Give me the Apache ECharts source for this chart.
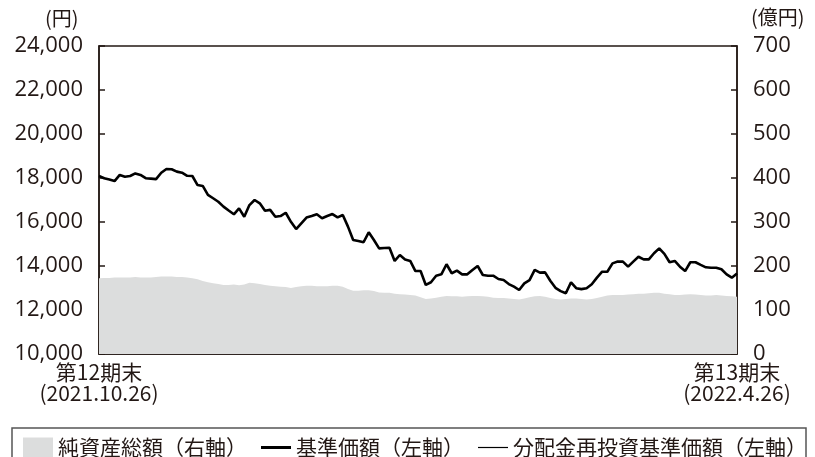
<!DOCTYPE html>
<html>
<head>
<meta charset="utf-8">
<script src="https://cdn.jsdelivr.net/npm/echarts@6/dist/echarts.min.js"></script>
<style>
  html, body { margin: 0; padding: 0; background: #fff; }
  #chart { width: 815px; height: 457px; }
</style>
</head>
<body>
<div id="chart"></div>
<script>
// 基準価額（円）
const navPrice = [
  18090, 17990, 17930, 17860, 18140, 18060, 18090, 18210, 18140, 17990,
  17970, 17950, 18240, 18410, 18400, 18290, 18240, 18100, 18090, 17680,
  17640, 17230, 17080, 16920, 16700, 16520, 16350, 16620, 16240, 16770,
  17000, 16850, 16510, 16550, 16240, 16270, 16420, 16010, 15680, 15940,
  16200, 16270, 16350, 16170, 16270, 16360, 16210, 16320, 15790, 15180,
  15140, 15080, 15530, 15180, 14800, 14820, 14830, 14230, 14500, 14300,
  14230, 13770, 13770, 13140, 13260, 13560, 13620, 14080, 13670, 13790,
  13620, 13620, 13820, 14000, 13590, 13560, 13560, 13410, 13360, 13180,
  13060, 12910, 13210, 13360, 13820, 13700, 13710, 13330, 13010, 12860,
  12760, 13260, 12990, 12950, 12990, 13170, 13470, 13740, 13740, 14120,
  14200, 14200, 13970, 14200, 14420, 14300, 14300, 14580, 14800, 14550,
  14170, 14230, 13970, 13770, 14170, 14170, 14050, 13940, 13920, 13920,
  13850, 13620, 13470, 13660
]
// 分配金再投資基準価額（円）: 期中の分配なしのため基準価額と同じ
const reinvestPrice = navPrice
// 純資産総額（億円）
const netAssets = [
  172, 173, 173, 174, 174, 174, 174, 175, 174, 174,
  174, 175, 176, 176, 176, 175, 175, 174, 172, 170,
  166, 163, 161, 159, 157, 157, 158, 156, 158, 162,
  161, 159, 157, 155, 154, 153, 152, 150, 152, 154,
  155, 155, 154, 154, 154, 155, 155, 153, 148, 144,
  144, 145, 145, 143, 140, 139, 139, 137, 136, 135,
  134, 133, 129, 125, 126, 128, 130, 132, 131, 131,
  130, 131, 132, 132, 131, 130, 128, 127, 127, 126,
  125, 124, 126, 129, 131, 132, 130, 127, 125, 124,
  125, 126, 126, 125, 124, 125, 127, 130, 133, 134,
  134, 134, 135, 136, 137, 137, 138, 139, 139, 137,
  136, 134, 134, 135, 136, 135, 134, 133, 133, 134,
  133, 132, 131, 130
]
const periodLabels = ['第12期末\n(2021.10.26)', '第13期末\n(2022.4.26)']
const leftAxisRange = [10000, 24000, 2000]
const rightAxisRange = [0, 700, 100]
const seriesNames = ['純資産総額（右軸）', '基準価額（左軸）', '分配金再投資基準価額（左軸）']

const categories = navPrice.map((_, i) => String(i))
const lastIndex = categories.length - 1

const ink = '#231815'
const font = '"Noto Sans CJK JP", "Noto Sans", sans-serif'
const numFont = '"Open Sans", "Noto Sans", sans-serif'

const chart = echarts.init(document.getElementById('chart'))

const option = {
  animation: false,
  textStyle: { fontFamily: font, color: ink },
  grid: {
    left: 99,
    right: 78,
    top: 46,
    bottom: 103,
    show: true,
    borderColor: ink,
    borderWidth: 1.5,
    backgroundColor: 'transparent'
  },
  legend: {
    left: 18,
    top: 432,
    itemGap: 14,
    itemWidth: 30,
    itemHeight: 20,
    textStyle: { fontFamily: font, fontSize: 21, color: ink },
    data: [
      { name: seriesNames[0], icon: 'rect', itemStyle: { color: '#dcdddd' } },
      { name: seriesNames[1], icon: 'path://M0,0H30V3H0Z', itemStyle: { color: '#000' } },
      { name: seriesNames[2], icon: 'path://M0,0H30V1.2H0Z', itemStyle: { color: '#000' } }
    ]
  },
  graphic: [
    {
      type: 'rect',
      shape: { x: 12, y: 428, width: 794, height: 40 },
      style: { fill: 'none', stroke: '#555', lineWidth: 1.5 },
      z: -1
    },
    {
      type: 'text',
      left: 45,
      top: 8,
      style: { text: '(円)', font: '20px ' + font, fill: ink }
    },
    {
      type: 'text',
      left: 751,
      top: 7,
      style: { text: '(億円)', font: '20px ' + font, fill: ink }
    }
  ],
  xAxis: {
    type: 'category',
    data: categories,
    boundaryGap: false,
    axisLine: { lineStyle: { color: ink, width: 1.5 } },
    axisTick: { show: false },
    axisLabel: {
      interval: (i) => i === 0 || i === lastIndex,
      showMinLabel: true,
      showMaxLabel: true,
      margin: 8,
      fontSize: 21,
      lineHeight: 21,
      color: ink,
      fontFamily: font,
      formatter: (v, i) => (i === 0 ? periodLabels[0] : i === lastIndex ? periodLabels[1] : '')
    }
  },
  yAxis: [
    {
      type: 'value',
      min: leftAxisRange[0],
      max: leftAxisRange[1],
      interval: leftAxisRange[2],
      splitLine: { show: false },
      axisLine: { show: true, lineStyle: { color: ink, width: 1.5 } },
      axisTick: { show: true, inside: true, length: 6, lineStyle: { color: ink, width: 1.5 } },
      axisLabel: {
        margin: 16,
        fontSize: 22,
        color: ink,
        fontFamily: numFont,
        formatter: (v) => v.toLocaleString('en-US')
      }
    },
    {
      type: 'value',
      position: 'right',
      min: rightAxisRange[0],
      max: rightAxisRange[1],
      interval: rightAxisRange[2],
      splitLine: { show: false },
      axisLine: { show: true, lineStyle: { color: ink, width: 1.5 } },
      axisTick: { show: true, inside: true, length: 6, lineStyle: { color: ink, width: 1.5 } },
      axisLabel: { margin: 16, fontSize: 22, color: ink, fontFamily: numFont }
    }
  ],
  series: [
    {
      name: seriesNames[0],
      type: 'line',
      yAxisIndex: 1,
      data: netAssets,
      symbol: 'none',
      lineStyle: { width: 0 },
      itemStyle: { color: '#dcdddd' },
      areaStyle: { color: '#dcdddd', opacity: 1 },
      z: 1
    },
    {
      name: seriesNames[1],
      type: 'line',
      yAxisIndex: 0,
      data: navPrice,
      symbol: 'none',
      lineStyle: { color: '#000', width: 2.6 },
      itemStyle: { color: '#000' },
      z: 3
    },
    {
      name: seriesNames[2],
      type: 'line',
      yAxisIndex: 0,
      data: reinvestPrice,
      symbol: 'none',
      lineStyle: { color: '#000', width: 1 },
      itemStyle: { color: '#000' },
      z: 2
    }
  ]
}

chart.setOption(option)
</script>
</body>
</html>
